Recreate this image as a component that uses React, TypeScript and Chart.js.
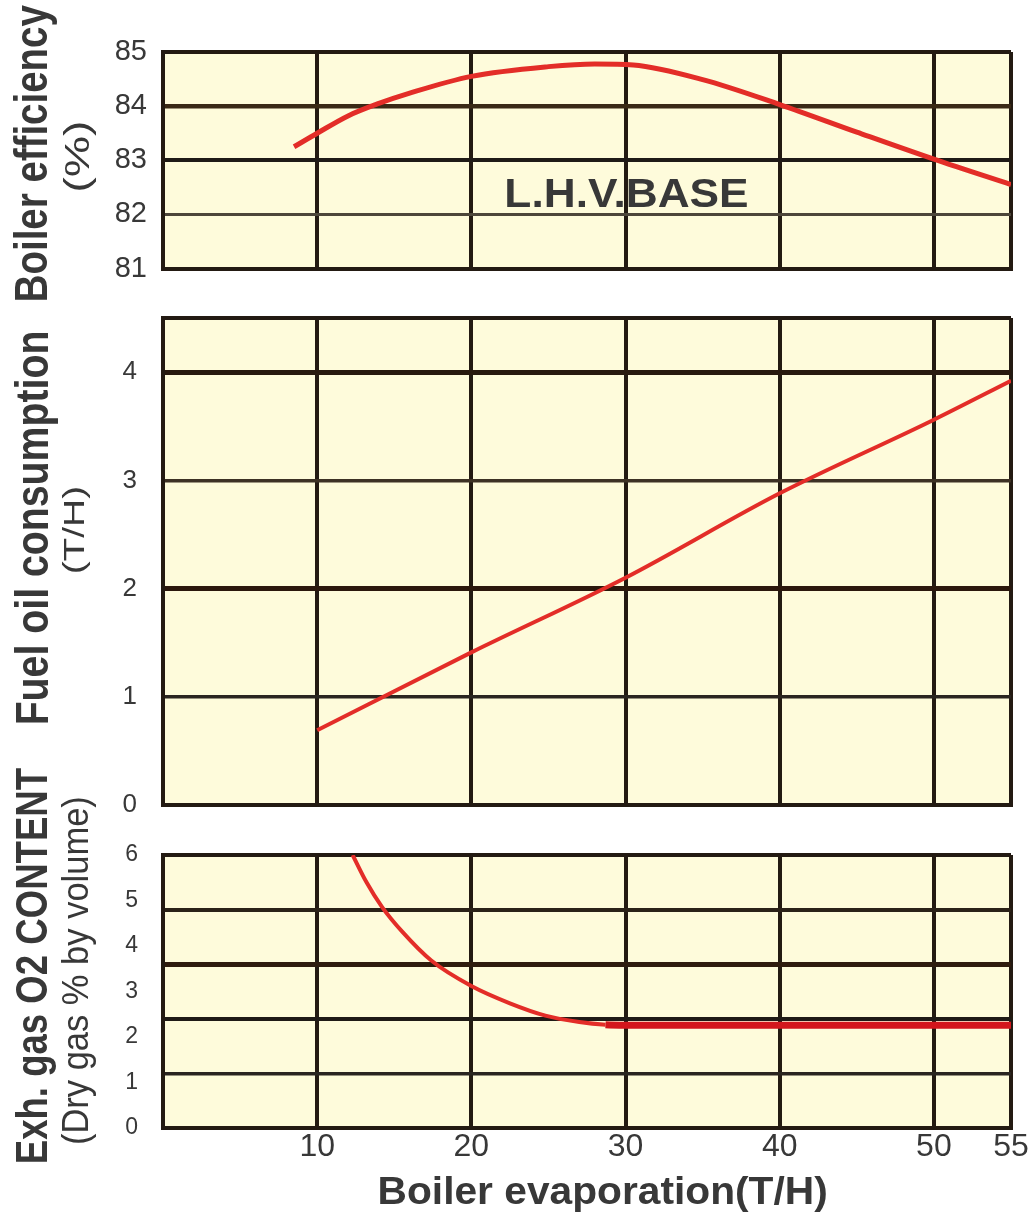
import React, { useEffect, useLayoutEffect, useRef } from "react";
import { Chart, registerables } from "chart.js";

Chart.register(...registerables);

// ---------------- data ----------------
const X_TICKS = [0, 10, 20, 30, 40, 50, 55];

const EFF_TICKS = [81, 82, 83, 84, 85];
const EVAP_EFF = [8.5, 10, 12, 14, 16, 20, 25, 28, 30.5, 35, 40, 45, 50, 55];
const EFFICIENCY = [83.25, 83.5, 83.82, 84.05, 84.24, 84.55, 84.73, 84.78, 84.76, 84.49, 84.03, 83.52, 83.02, 82.55];

const FUEL_TICKS = [0, 1, 2, 3, 4, 4.5];
const EVAP_FUEL = [10, 20, 30, 40, 50, 55];
const FUEL = [0.69, 1.41, 2.1, 2.88, 3.56, 3.92];

const O2_TICKS = [0, 1, 2, 3, 4, 5, 6];
const O2_GRID = [0, 1, 2, 3, 4, 5];
const EVAP_O2 = [12.3, 13.2, 14.2, 15.5, 17.4, 20, 22.5, 24.8, 27, 28.7, 30, 40, 50, 55];
const O2 = [6.0, 5.4, 4.86, 4.32, 3.68, 3.12, 2.74, 2.47, 2.33, 2.27, 2.26, 2.26, 2.26, 2.26];

const X_TITLE = "Boiler evaporation(T/H)";
const EFF_TITLE = ["Boiler efficiency", "(%)"];
const FUEL_TITLE = ["Fuel oil consumption", "(T/H)"];
const O2_TITLE = ["Exh. gas O2 CONTENT", "(Dry gas % by volume)"];
const NOTE = "L.H.V.BASE";

// ---------------- styles ----------------
const FONT = "'Liberation Sans', Arial, Helvetica, sans-serif";
const BG = "#fefbdb";
const GRID = "#231a12";
const RED = "#e32d28";
const TEXT = "#383838";
const PLOT_LEFT = 163;
const PLOT_RIGHT = 1011;
const PAGE_W = 1031;
const PAGE_H = 1214;

type Box = { x0: number; x1: number; y0: number; y1: number };
type TextItem = { text: string; box: Box; rotated: boolean; weight: string };

function drawFitted(ctx: CanvasRenderingContext2D, item: TextItem, offsetY: number) {
  const { text, box, rotated, weight } = item;
  ctx.save();
  ctx.font = `${weight} 100px ${FONT}`;
  ctx.textBaseline = "alphabetic";
  ctx.textAlign = "left";
  ctx.fillStyle = TEXT;
  const m = ctx.measureText(text);
  const w = m.actualBoundingBoxLeft + m.actualBoundingBoxRight;
  const h = m.actualBoundingBoxAscent + m.actualBoundingBoxDescent;
  const y0 = box.y0 - offsetY;
  const y1 = box.y1 - offsetY;
  if (!rotated) {
    ctx.translate(box.x0, y0);
    ctx.scale((box.x1 - box.x0) / w, (y1 - y0) / h);
  } else {
    ctx.translate(box.x0, y1);
    ctx.rotate(-Math.PI / 2);
    ctx.scale((y1 - y0) / w, (box.x1 - box.x0) / h);
  }
  ctx.fillText(text, m.actualBoundingBoxLeft, m.actualBoundingBoxAscent);
  ctx.restore();
}

function makePlugins(texts: TextItem[], offsetY: number) {
  return [
    {
      id: "plotBg",
      beforeDraw(chart: any) {
        const { ctx, chartArea } = chart;
        ctx.save();
        ctx.fillStyle = BG;
        ctx.fillRect(chartArea.left, chartArea.top, chartArea.right - chartArea.left, chartArea.bottom - chartArea.top);
        ctx.restore();
      },
    },
    {
      id: "fittedText",
      afterDraw(chart: any) {
        texts.forEach((t) => drawFitted(chart.ctx, t, offsetY));
      },
    },
  ];
}

function xScale(showLabels: boolean, bottomHeight: number) {
  return {
    type: "linear",
    min: 0,
    max: 55,
    afterBuildTicks: (axis: any) => {
      axis.ticks = X_TICKS.map((v) => ({ value: v }));
    },
    afterFit: (axis: any) => {
      axis.height = bottomHeight;
    },
    grid: { display: true, color: GRID, lineWidth: 4, drawTicks: false },
    border: { display: true, color: GRID, width: 4 },
    ticks: {
      display: showLabels,
      autoSkip: false,
      maxRotation: 0,
      padding: 0,
      color: TEXT,
      font: { family: FONT, size: 32 },
      callback: (v: number) => (v === 0 ? "" : String(v)),
    },
  };
}

function points(xs: number[], ys: number[]) {
  return xs.map((x, i) => ({ x, y: ys[i] }));
}

const baseOptions = {
  responsive: false,
  animation: false,
  devicePixelRatio: 1,
  events: [],
  plugins: { legend: { display: false }, tooltip: { enabled: false } },
};

// ---------------- panels (page coordinates of each canvas) ----------------
const P1_TOP = 0, P1_H = 302;
const P2_TOP = 268, P2_H = 582;
const P3_TOP = 765, P3_H = 449;

function effConfig() {
  const widths: Record<number, number> = { 81: 4, 82: 3, 83: 4, 84: 4.5, 85: 4 };
  const colors: Record<number, string> = { 81: GRID, 82: "#4d463a", 83: "#1f1a16", 84: "#3a2916", 85: GRID };
  return {
    type: "line",
    data: {
      datasets: [
        {
          data: points(EVAP_EFF, EFFICIENCY),
          borderColor: RED,
          borderWidth: 5,
          pointRadius: 0,
          cubicInterpolationMode: "monotone",
        },
      ],
    },
    options: {
      ...baseOptions,
      layout: { padding: { left: 0, right: PAGE_W - PLOT_RIGHT, top: 52 - P1_TOP, bottom: P1_TOP + P1_H - 270 } },
      scales: {
        x: xScale(false, 0),
        y: {
          type: "linear",
          min: 81,
          max: 85,
          afterBuildTicks: (axis: any) => {
            axis.ticks = EFF_TICKS.map((v) => ({ value: v }));
          },
          afterFit: (axis: any) => {
            axis.width = PLOT_LEFT;
          },
          grid: {
            color: (c: any) => colors[c.tick?.value] ?? GRID,
            lineWidth: (c: any) => widths[c.tick?.value] ?? 4,
            drawTicks: false,
          },
          border: { display: true, color: GRID, width: 4 },
          ticks: { padding: 16, color: TEXT, font: { family: FONT, size: 29 } },
        },
      },
    },
    plugins: makePlugins(
      [
        { text: EFF_TITLE[0], box: { x0: 14, x1: 57, y0: 5, y1: 300 }, rotated: true, weight: "bold" },
        { text: EFF_TITLE[1], box: { x0: 63, x1: 96, y0: 123, y1: 190 }, rotated: true, weight: "normal" },
        { text: NOTE, box: { x0: 507, x1: 747, y0: 178, y1: 207 }, rotated: false, weight: "bold" },
      ],
      P1_TOP
    ),
  };
}

function fuelConfig() {
  const widths: Record<number, number> = { 0: 4, 1: 3.5, 2: 5, 3: 3.5, 4: 5, 4.5: 4 };
  const colors: Record<number, string> = { 0: GRID, 1: "#2a2520", 2: "#2b170c", 3: "#3d3124", 4: "#28190e", 4.5: GRID };
  return {
    type: "line",
    data: {
      datasets: [
        {
          data: points(EVAP_FUEL, FUEL),
          borderColor: RED,
          borderWidth: 4,
          pointRadius: 0,
          cubicInterpolationMode: "monotone",
        },
      ],
    },
    options: {
      ...baseOptions,
      layout: { padding: { left: 0, right: PAGE_W - PLOT_RIGHT, top: 318 - P2_TOP, bottom: P2_TOP + P2_H - 805 } },
      scales: {
        x: xScale(false, 0),
        y: {
          type: "linear",
          min: 0,
          max: 4.5,
          afterBuildTicks: (axis: any) => {
            axis.ticks = FUEL_TICKS.map((v) => ({ value: v }));
          },
          afterFit: (axis: any) => {
            axis.width = PLOT_LEFT;
          },
          grid: {
            color: (c: any) => colors[c.tick?.value] ?? GRID,
            lineWidth: (c: any) => widths[c.tick?.value] ?? 4,
            drawTicks: false,
          },
          border: { display: true, color: GRID, width: 4 },
          ticks: {
            padding: 26,
            color: TEXT,
            font: { family: FONT, size: 26 },
            callback: (v: number) => (Number.isInteger(v) ? String(v) : ""),
          },
        },
      },
    },
    plugins: makePlugins(
      [
        { text: FUEL_TITLE[0], box: { x0: 15, x1: 58, y0: 333, y1: 723 }, rotated: true, weight: "bold" },
        { text: FUEL_TITLE[1], box: { x0: 62, x1: 90, y0: 488, y1: 572 }, rotated: true, weight: "normal" },
      ],
      P2_TOP
    ),
  };
}

function o2Config() {
  const widths: Record<number, number> = { 0: 4, 1: 3.5, 2: 4, 3: 5, 4: 4, 5: 4 };
  const colors: Record<number, string> = { 0: GRID, 1: "#2a2520", 2: "#1f1a16", 3: "#2f1c0e", 4: "#2b2218", 5: GRID };
  return {
    type: "line",
    data: {
      datasets: [
        {
          data: points(EVAP_O2, O2),
          borderColor: RED,
          borderWidth: 4,
          pointRadius: 0,
          cubicInterpolationMode: "monotone",
          segment: {
            borderWidth: (c: any) => (c.p0.parsed.x >= 28.7 ? 7 : 4),
            borderColor: (c: any) => (c.p0.parsed.x >= 28.7 ? "#d3161c" : RED),
          },
        },
      ],
    },
    options: {
      ...baseOptions,
      layout: { padding: { left: 0, right: PAGE_W - PLOT_RIGHT, top: 855 - P3_TOP, bottom: 0 } },
      scales: {
        x: xScale(true, P3_TOP + P3_H - 1128),
        y: {
          type: "linear",
          position: "left",
          min: 0,
          max: 6,
          afterBuildTicks: (axis: any) => {
            axis.ticks = O2_TICKS.map((v) => ({ value: v }));
          },
          afterFit: (axis: any) => {
            axis.width = PLOT_LEFT;
          },
          grid: { display: false, drawTicks: false },
          border: { display: true, color: GRID, width: 4 },
          ticks: { padding: 25, color: TEXT, font: { family: FONT, size: 23 } },
        },
        yGrid: {
          type: "linear",
          position: "left",
          min: 0,
          max: 5,
          afterBuildTicks: (axis: any) => {
            axis.ticks = O2_GRID.map((v) => ({ value: v }));
          },
          afterFit: (axis: any) => {
            axis.width = 0;
          },
          grid: {
            color: (c: any) => colors[c.tick?.value] ?? GRID,
            lineWidth: (c: any) => widths[c.tick?.value] ?? 4,
            drawTicks: false,
          },
          border: { display: false },
          ticks: { display: false },
        },
      },
    },
    plugins: makePlugins(
      [
        { text: O2_TITLE[0], box: { x0: 14, x1: 56, y0: 768, y1: 1162 }, rotated: true, weight: "bold" },
        { text: O2_TITLE[1], box: { x0: 61, x1: 96, y0: 798, y1: 1143 }, rotated: true, weight: "normal" },
        { text: X_TITLE, box: { x0: 380, x1: 826, y0: 1175, y1: 1212 }, rotated: false, weight: "bold" },
      ],
      P3_TOP
    ),
  };
}

function Panel({ top, height, make }: { top: number; height: number; make: () => any }) {
  const ref = useRef<HTMLCanvasElement | null>(null);
  useEffect(() => {
    if (!ref.current) return;
    const chart = new Chart(ref.current, make());
    return () => chart.destroy();
  }, [make]);
  return (
    <div style={{ position: "absolute", left: 0, top, width: PAGE_W, height }}>
      <canvas ref={ref} width={PAGE_W} height={height} style={{ display: "block", width: PAGE_W, height }} />
    </div>
  );
}

export default function App() {
  useLayoutEffect(() => {
    document.body.style.margin = "0";
  }, []);
  return (
    <div style={{ position: "relative", width: PAGE_W, height: PAGE_H, overflow: "hidden", background: "#ffffff" }}>
      <Panel top={P1_TOP} height={P1_H} make={effConfig} />
      <Panel top={P2_TOP} height={P2_H} make={fuelConfig} />
      <Panel top={P3_TOP} height={P3_H} make={o2Config} />
    </div>
  );
}
